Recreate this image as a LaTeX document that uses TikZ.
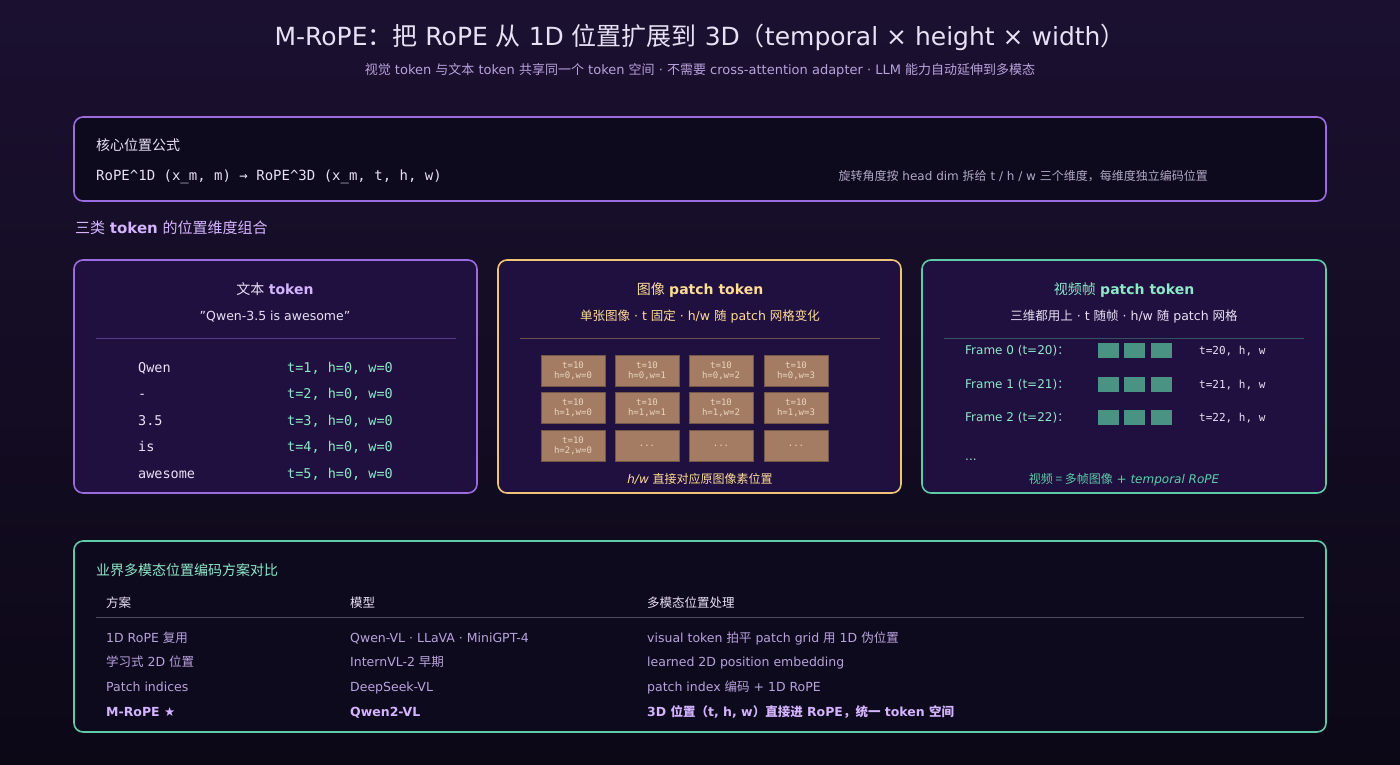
\documentclass[tikz,border=0pt]{standalone}
\usepackage{fontspec}
\setmainfont{DejaVu Sans}
\setmonofont{DejaVu Sans Mono}
\newfontfamily\cjk{Noto Sans CJK SC}
\usetikzlibrary{calc}
\definecolor{bgtop}{HTML}{1B1030}
\definecolor{bgbot}{HTML}{0C0816}
\definecolor{panel}{HTML}{1F1040}
\definecolor{dark}{HTML}{0E0A1E}
\definecolor{purp}{HTML}{9A6CE0}
\definecolor{gold}{HTML}{F0C478}
\definecolor{teal}{HTML}{5ECCA8}
\definecolor{subt}{HTML}{B8A2DC}
\definecolor{txt}{HTML}{E8E0F4}
\definecolor{grey}{HTML}{B0A8C4}
\definecolor{lpurp}{HTML}{D4B4FF}
\definecolor{lgold}{HTML}{FFDC96}
\definecolor{lteal}{HTML}{8EE8C8}
\definecolor{tile}{HTML}{A47C64}
\definecolor{tiletx}{HTML}{EAD4BE}
\definecolor{vid}{HTML}{4A9282}
\tikzset{
 box/.style={rounded corners=9pt,line width=1.6pt},
 tl/.style={anchor=base west,inner sep=0},
 tc/.style={anchor=base,inner sep=0},
 tr/.style={anchor=base east,inner sep=0},
 ptile/.style={fill=tile,draw=tile!70!black,minimum width=64pt,minimum height=31pt,inner sep=0,align=center,font=\ttfamily\fontsize{9}{10}\selectfont,text=tiletx},
 vtile/.style={fill=vid,minimum width=21pt,minimum height=15pt,inner sep=0},
}
\begin{document}
\begin{tikzpicture}[x=1pt,y=-1pt]
\shade[top color=bgtop,bottom color=bgbot] (0,0) rectangle (1400,764);
\useasboundingbox (0,0) rectangle (1400,764);
% title
\node[tc,text=txt,font=\fontsize{25}{28}\selectfont] (title) at (700,45) {M-RoPE{\cjk：把} RoPE {\cjk 从} 1D {\cjk 位置扩展到} 3D{\cjk（}temporal × height × width{\cjk）}};
\node[tc,text=subt,font=\fontsize{13}{15}\selectfont] (sub) at (700,74) {{\cjk 视觉} token {\cjk 与文本} token {\cjk 共享同一个} token {\cjk 空间} · {\cjk 不需要} cross-attention adapter · LLM {\cjk 能力自动延伸到多模态}};
% formula box
\draw[box,draw=purp,fill=dark] (74,117) rectangle (1326,201);
\node[tl,text=txt,font=\fontsize{14}{16}\selectfont] (f1) at (96,150) {\cjk 核心位置公式};
\node[tl,text=txt,font=\ttfamily\fontsize{14}{16}\selectfont] (f2) at (96,180) {RoPE\textasciicircum1D (x\_m, m) → RoPE\textasciicircum3D (x\_m, t, h, w)};
\node[tr,text=grey,font=\fontsize{12}{14}\selectfont] (f3) at (1208,180) {{\cjk 旋转角度按} head dim {\cjk 拆给} t / h / w {\cjk 三个维度，每维度独立编码位置}};
\node[tl,text=lpurp,font=\fontsize{15}{17}\selectfont] (sec) at (75,233) {{\cjk 三类} \textbf{token} {\cjk 的位置维度组合}};
% panels
\draw[box,draw=purp,fill=panel] (74,260) rectangle (477,493);
\draw[box,draw=gold,fill=panel] (498,260) rectangle (901,493);
\draw[box,draw=teal,fill=panel] (922,260) rectangle (1326,493);
% panel 1
\node[tc,text=txt,font=\fontsize{14}{16}\selectfont] (p1t) at (275,294) {{\cjk 文本} \textcolor{lpurp}{\textbf{token}}};
\node[tc,text=txt,font=\fontsize{12.5}{14}\selectfont] (p1s) at (275,320) {"Qwen-3.5 is awesome"};
\draw[purp!45!panel,line width=0.8pt] (96,338) -- (456,338);
\foreach \w/\v/\y in {Qwen/1/367,-/2/393,3.5/3/420,is/4/446,awesome/5/473}{
 \node[tl,text=txt,font=\ttfamily\fontsize{13.5}{15}\selectfont] at (138,\y+5) {\w};
 \node[tl,text=lteal,font=\ttfamily\fontsize{13.5}{15}\selectfont] at (287,\y+5) {t=\v, h=0, w=0};
}
% panel 2
\node[tc,text=lgold,font=\fontsize{14}{16}\selectfont] (p2t) at (700,294) {{\cjk 图像} \textbf{patch token}};
\node[tc,text=lgold,font=\fontsize{12.5}{14}\selectfont] (p2s) at (700,320) {{\cjk 单张图像} · t {\cjk 固定} · h/w {\cjk 随} patch {\cjk 网格变化}};
\draw[gold!35!panel,line width=0.8pt] (520,338) -- (880,338);
\foreach \c/\x in {0/573,1/647,2/721,3/796}{
 \node[ptile] (a\c) at (\x,371) {t=10\\h=0,w=\c};
 \node[ptile] (b\c) at (\x,408) {t=10\\h=1,w=\c};
}
\node[ptile] (c0) at (573,446) {t=10\\h=2,w=0};
\foreach \x in {647,721,796}{\node[ptile] at (\x,446) {...};}
\node[tc,text=lgold,font=\fontsize{12}{14}\selectfont] (p2c) at (700,483) {\textit{h/w} {\cjk 直接对应原图像素位置}};
% panel 3
\node[tc,text=lteal,font=\fontsize{14}{16}\selectfont] (p3t) at (1124,294) {{\cjk 视频帧} \textbf{patch token}};
\node[tc,text=txt,font=\fontsize{12.5}{14}\selectfont] (p3s) at (1124,320) {{\cjk 三维都用上} · t {\cjk 随帧} · h/w {\cjk 随} patch {\cjk 网格}};
\draw[teal!35!panel,line width=0.8pt] (944,338) -- (1304,338);
\foreach \f/\t/\y in {0/20/350,1/21/384,2/22/417}{
 \node[tl,text=lteal,font=\fontsize{12}{14}\selectfont] at (965,\y+4) {Frame \f\ (t=\t){\cjk ：}};
 \node[vtile] (v\f a) at (1108,\y) {};
 \node[vtile] (v\f b) at (1134,\y) {};
 \node[vtile] (v\f c) at (1161,\y) {};
 \node[tl,text=txt,font=\ttfamily\fontsize{11}{13}\selectfont] at (1199,\y+4) {t=\t, h, w};
}
\node[tl,text=lteal,font=\fontsize{12}{14}\selectfont] (dots) at (965,460) {...};
\node[tc,text=teal,font=\fontsize{12}{14}\selectfont] (p3c) at (1124,483) {{\cjk 视频 = 多帧图像} + \textit{temporal RoPE}};
% bottom table
\draw[box,draw=teal,fill=dark] (74,541) rectangle (1326,732);
\node[tl,text=lteal,font=\fontsize{14}{16}\selectfont] (bt) at (96,575) {\cjk 业界多模态位置编码方案对比};
\node[tl,text=txt,font=\fontsize{12.5}{14}\selectfont] at (106,607) {\cjk 方案};
\node[tl,text=txt,font=\fontsize{12.5}{14}\selectfont] at (350,607) {\cjk 模型};
\node[tl,text=txt,font=\fontsize{12.5}{14}\selectfont] at (647,607) {\cjk 多模态位置处理};
\draw[grey!40!dark,line width=0.8pt] (96,617) -- (1304,617);
\tikzset{rw/.style={tl,text=subt,font=\fontsize{12.5}{14}\selectfont}}
\node[rw] at (106,642) {1D RoPE {\cjk 复用}};
\node[rw] at (350,642) {Qwen-VL · LLaVA · MiniGPT-4};
\node[rw] at (647,642) {visual token {\cjk 拍平} patch grid {\cjk 用} 1D {\cjk 伪位置}};
\node[rw] at (106,666) {{\cjk 学习式} 2D {\cjk 位置}};
\node[rw] at (350,666) {InternVL-2 {\cjk 早期}};
\node[rw] at (647,666) {learned 2D position embedding};
\node[rw] at (106,691) {Patch indices};
\node[rw] at (350,691) {DeepSeek-VL};
\node[rw] at (647,691) {patch index {\cjk 编码} + 1D RoPE};
\tikzset{rb/.style={tl,text=lpurp,font=\bfseries\fontsize{12.5}{14}\selectfont}}
\node[rb] at (106,716) {M-RoPE ★};
\node[rb] at (350,716) {Qwen2-VL};
\node[rb] at (647,716) {3D {\cjk 位置（}t, h, w{\cjk）直接进} RoPE{\cjk ，统一} token {\cjk 空间}};
\end{tikzpicture}
\end{document}
